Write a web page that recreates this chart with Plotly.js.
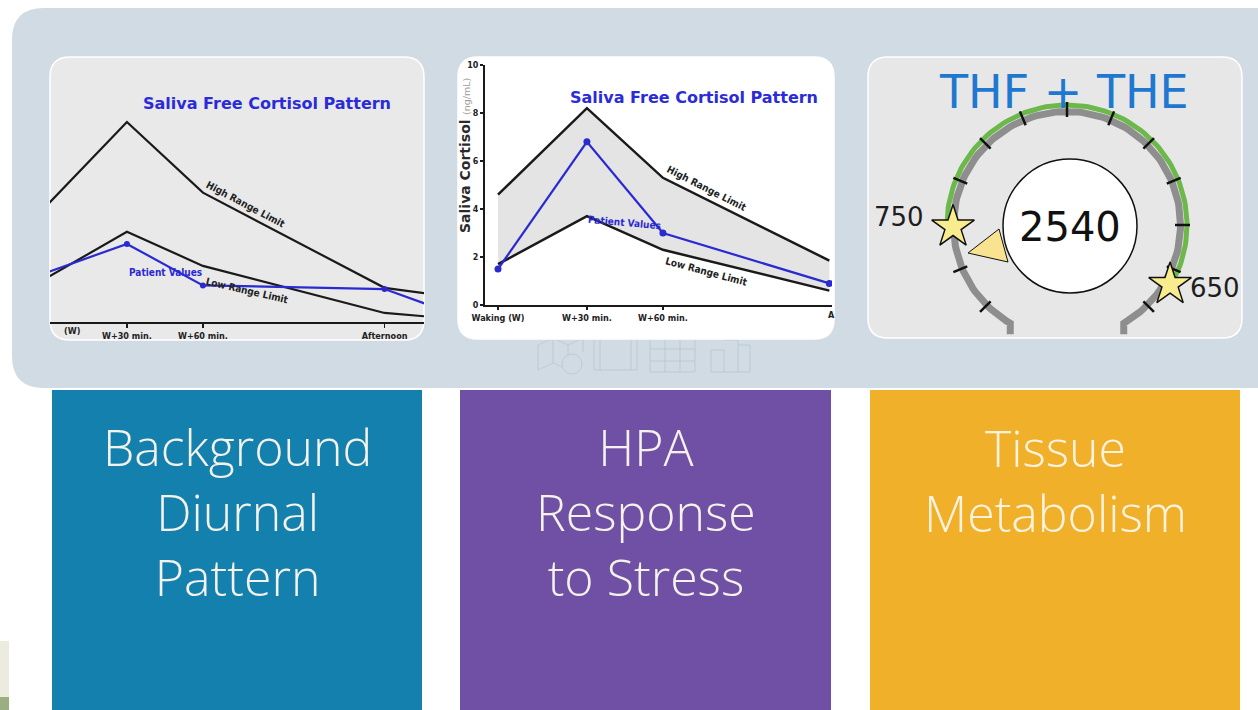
<!DOCTYPE html>
<html>
<head>
<meta charset="utf-8">
<script src="https://cdn.plot.ly/plotly-3.0.1.min.js"></script>
<style>
  html, body { margin: 0; padding: 0; background: #ffffff; overflow: hidden; }
  #chart { width: 1258px; height: 710px; }
</style>
</head>
<body>
<div id="chart"></div>
<script>
// ---- Data -------------------------------------------------------------
// Saliva collection points shared by both cortisol panels
const tickLabels = ['Waking (W)', 'W+30 min.', 'W+60 min.', 'Afternoon', 'Evening'];

// Panel A – background diurnal pattern (hours after waking, ng/mL)
const hoursA = [0, 0.585, 1.085, 2.28, 2.645];
const highA = [4.4, 8.2, 5.3, 1.4, 1.1];
const lowA = [1.6, 3.7, 2.3, 0.37, 0.18];
const patientA = [1.9, 3.2, 1.5, 1.35, 0.53];

// Panel B – HPA response to stress (hours after waking, ng/mL)
const hoursB = [0, 0.585, 1.085, 2.18];
const highB = [4.6, 8.2, 5.3, 1.85];
const lowB = [1.7, 3.7, 2.3, 0.6];
const patientB = [1.5, 6.8, 3.0, 0.9];
const yTicksB = [0, 2, 4, 6, 8, 10];

// Panel C – tissue metabolism gauge
const gaugeTotal = 2540;
const gaugeRefLabels = ['750', '650'];

// Category boxes
const boxTitles = [['Background', 'Diurnal', 'Pattern'], ['HPA', 'Response', 'to Stress'], ['Tissue', 'Metabolism']];
const boxColors = ['#1380ad', '#7050a4', '#f0b02a'];

// ---- Helpers ----------------------------------------------------------
const W = 1258, H = 710;
const fx = p => p / W;
const fy = p => 1 - p / H;

function roundRectPath(x0, y0, x1, y1, r) {
  const P = (x, y) => fx(x).toFixed(5) + ',' + fy(y).toFixed(5);
  return 'M' + P(x0 + r, y0) + ' L' + P(x1 - r, y0) + ' Q' + P(x1, y0) + ' ' + P(x1, y0 + r) +
    ' L' + P(x1, y1 - r) + ' Q' + P(x1, y1) + ' ' + P(x1 - r, y1) +
    ' L' + P(x0 + r, y1) + ' Q' + P(x0, y1) + ' ' + P(x0, y1 - r) +
    ' L' + P(x0, y0 + r) + ' Q' + P(x0, y0) + ' ' + P(x0 + r, y0) + ' Z';
}
function paperRect(x0, y0, x1, y1, fill) {
  return { type: 'rect', xref: 'paper', yref: 'paper', x0: fx(x0), x1: fx(x1), y0: fy(y1), y1: fy(y0),
    fillcolor: fill, line: { width: 0 }, layer: 'below' };
}
function paperPath(d, color) {
  return { type: 'path', xref: 'paper', yref: 'paper', path: d, line: { color: color, width: 1 }, layer: 'below' };
}
function pxPath(pts) {
  return pts.map((p, i) => (i ? 'L' : 'M') + fx(p[0]).toFixed(5) + ',' + fy(p[1]).toFixed(5)).join(' ');
}

// gauge geometry: angle measured clockwise from the top
const pt = (r, deg) => [r * Math.sin(deg * Math.PI / 180), r * Math.cos(deg * Math.PI / 180)];
function arcXY(r, a0, a1) {
  const xs = [], ys = [];
  const n = Math.max(2, Math.ceil(Math.abs(a1 - a0) / 2));
  for (let i = 0; i <= n; i++) {
    const p = pt(r, a0 + (a1 - a0) * i / n);
    xs.push(p[0]); ys.push(p[1]);
  }
  return { x: xs, y: ys };
}

// ---- Traces -----------------------------------------------------------
const BLUE = '#2a2ad2';
const INK = '#1a1a1a';
const traces = [];

// Panel A
traces.push({ x: hoursA, y: lowA, xaxis: 'x', yaxis: 'y', mode: 'lines', line: { color: INK, width: 2.2 }, hoverinfo: 'skip' });
traces.push({ x: hoursA, y: highA, xaxis: 'x', yaxis: 'y', mode: 'lines', line: { color: INK, width: 2.2 }, hoverinfo: 'skip' });
traces.push({ x: hoursA, y: patientA, xaxis: 'x', yaxis: 'y', mode: 'lines+markers', line: { color: BLUE, width: 2.2 },
  marker: { color: BLUE, size: 6 }, hoverinfo: 'skip' });

// Panel B
traces.push({ x: hoursB, y: lowB, xaxis: 'x2', yaxis: 'y2', mode: 'lines', line: { color: INK, width: 2.5 }, hoverinfo: 'skip' });
traces.push({ x: hoursB, y: highB, xaxis: 'x2', yaxis: 'y2', mode: 'lines', line: { color: INK, width: 2.5 },
  fill: 'tonexty', fillcolor: '#e4e4e4', hoverinfo: 'skip' });
traces.push({ x: hoursB, y: patientB, xaxis: 'x2', yaxis: 'y2', mode: 'lines+markers', line: { color: BLUE, width: 2.2 },
  marker: { color: BLUE, size: 7 }, hoverinfo: 'skip' });

// Panel C – gauge ring
const gray = arcXY(113.5, -150, 150);
gray.x.unshift(gray.x[0]); gray.y.unshift(gray.y[0] - 11);
gray.x.push(gray.x[gray.x.length - 1]); gray.y.push(gray.y[gray.y.length - 1] - 11);
traces.push({ x: gray.x, y: gray.y, xaxis: 'x3', yaxis: 'y3', mode: 'lines', line: { color: '#8e8e8e', width: 7 }, hoverinfo: 'skip' });
const green = arcXY(120, -90, 120);
traces.push({ x: green.x, y: green.y, xaxis: 'x3', yaxis: 'y3', mode: 'lines', line: { color: '#6cb84a', width: 5 }, hoverinfo: 'skip' });
const tx = [], ty = [];
for (let a = -135; a <= 135; a += 22.5) {
  const p0 = pt(108, a), p1 = pt(123, a);
  tx.push(p0[0], p1[0], null); ty.push(p0[1], p1[1], null);
}
traces.push({ x: tx, y: ty, xaxis: 'x3', yaxis: 'y3', mode: 'lines', line: { color: '#111', width: 2.5 }, hoverinfo: 'skip' });
// pointer
traces.push({ x: [-99, -68, -59, -99], y: [-28, -4, -37, -28], xaxis: 'x3', yaxis: 'y3', mode: 'lines', fill: 'toself',
  fillcolor: '#f9e390', line: { color: '#111', width: 1 }, hoverinfo: 'skip' });
// reference-limit stars
const s1 = pt(114, -91), s2 = pt(119, 120);
traces.push({ x: [s1[0], s2[0]], y: [s1[1], s2[1]], xaxis: 'x3', yaxis: 'y3', mode: 'markers',
  marker: { symbol: 'star', size: 32, color: '#f8ec8f', line: { color: '#111', width: 1.5 } }, hoverinfo: 'skip' });

// ---- Shapes -----------------------------------------------------------
const iconInk = 'rgba(140,160,180,0.28)';
const shapes = [
  { type: 'path', xref: 'paper', yref: 'paper', path: roundRectPath(12, 8, 1290, 388, 32), fillcolor: '#d1dbe3', line: { width: 0 }, layer: 'below' },
  // faint icon row under the middle card
  paperPath(pxPath([[538, 345], [553, 338], [568, 345], [583, 338], [583, 352]]), iconInk),
  paperPath(pxPath([[538, 345], [538, 370], [553, 363], [562, 367]]), iconInk),
  paperPath(pxPath([[553, 338], [553, 363]]), iconInk),
  paperPath(pxPath([[568, 345], [568, 355]]), iconInk),
  { type: 'circle', xref: 'paper', yref: 'paper', x0: fx(562), x1: fx(582), y0: fy(374), y1: fy(354), line: { color: iconInk, width: 1 }, layer: 'below' },
  paperPath(pxPath([[594, 338], [637, 338], [637, 370], [594, 370], [594, 338]]), iconInk),
  paperPath(pxPath([[600, 338], [600, 370]]), iconInk),
  paperPath(pxPath([[631, 338], [631, 370]]), iconInk),
  paperPath(pxPath([[650, 338], [695, 338], [695, 372], [650, 372], [650, 338]]), iconInk),
  paperPath(pxPath([[665, 338], [665, 372]]), iconInk),
  paperPath(pxPath([[680, 338], [680, 372]]), iconInk),
  paperPath(pxPath([[650, 349], [695, 349]]), iconInk),
  paperPath(pxPath([[650, 361], [695, 361]]), iconInk),
  paperPath(pxPath([[711, 372], [711, 350], [724, 350], [724, 372]]), iconInk),
  paperPath(pxPath([[724, 340], [738, 340], [738, 372]]), iconInk),
  paperPath(pxPath([[738, 345], [750, 345], [750, 372], [711, 372]]), iconInk),
  // cards
  { type: 'path', xref: 'paper', yref: 'paper', path: roundRectPath(50, 57, 424, 340, 20), fillcolor: '#e9e9e9', line: { color: '#ffffff', width: 1.5 }, layer: 'below' },
  { type: 'path', xref: 'paper', yref: 'paper', path: roundRectPath(458, 57, 834, 339, 20), fillcolor: '#ffffff', line: { color: '#ffffff', width: 1.5 }, layer: 'below' },
  { type: 'path', xref: 'paper', yref: 'paper', path: roundRectPath(868, 57, 1242, 338, 20), fillcolor: '#e7e7e7', line: { color: '#ffffff', width: 1.5 }, layer: 'below' },
  // category boxes
  paperRect(52, 390, 422, 710, boxColors[0]),
  paperRect(460, 390, 831, 710, boxColors[1]),
  paperRect(870, 390, 1240, 710, boxColors[2]),
  // corner strip
  paperRect(0, 641, 9, 697, '#ecebdf'),
  paperRect(0, 697, 9, 710, '#9bae82'),
  // gauge centre disc
  { type: 'circle', xref: 'x3', yref: 'y3', x0: 3 - 67, x1: 3 + 67, y0: -1 - 67, y1: -1 + 67,
    fillcolor: '#ffffff', line: { color: '#111', width: 1.5 }, layer: 'above' }
];

// ---- Annotations ------------------------------------------------------
const condBold = { family: 'DejaVu Sans Condensed', size: 10, color: '#222', weight: 'bold' };
function note(x, y, text, font, angle, extra) {
  return Object.assign({ xref: 'paper', yref: 'paper', x: fx(x), y: fy(y), text: text, showarrow: false,
    font: font, textangle: angle || 0, xanchor: 'center', yanchor: 'middle' }, extra || {});
}
const titleFont = { family: 'DejaVu Sans', size: 16, color: '#2b2bd8', weight: 'bold' };
const patientFont = Object.assign({}, condBold, { color: BLUE });
const annotations = [
  // Panel A labels
  note(267, 103, 'Saliva Free Cortisol Pattern', titleFont),
  note(246, 204, 'High Range Limit', condBold, 28),
  note(247, 290, 'Low Range Limit', condBold, 13),
  note(165, 273, 'Patient Values', patientFont),
  note(72, 331, '(W)', Object.assign({}, condBold, { size: 9 })),
  // Panel B labels
  note(694, 97, 'Saliva Free Cortisol Pattern', titleFont),
  note(707, 188, 'High Range Limit', condBold, 27),
  note(706, 272, 'Low Range Limit', condBold, 15),
  note(624, 222, 'Patient Values', patientFont, 5),
  note(831, 315, 'A', Object.assign({}, condBold, { size: 9 })),
  note(465, 156, '<b>Saliva Cortisol</b> <span style="font-size:9.5px;color:#9a9a9a">(ng/mL)</span>',
    { family: 'DejaVu Sans', size: 14, color: '#2a2a2a' }, -90),
  // Panel C labels
  note(1064, 92, 'THF + THE', { family: 'DejaVu Sans', size: 46, color: '#1f78cf' }),
  note(899, 217, gaugeRefLabels[0], { family: 'DejaVu Sans', size: 26, color: '#1e1e1e' }),
  note(1215, 288, gaugeRefLabels[1], { family: 'DejaVu Sans', size: 26, color: '#1e1e1e' }),
  { xref: 'x3', yref: 'y3', x: 3, y: -2, text: String(gaugeTotal), showarrow: false,
    font: { family: 'DejaVu Sans', size: 40, color: '#111' }, xanchor: 'center', yanchor: 'middle' }
];
// Category box titles (50px type gives the 65px row pitch)
const boxCentres = [237, 645.5, 1055];
boxTitles.forEach((lines, b) => {
  annotations.push(note(boxCentres[b], lines.length === 3 ? 512 : 480, lines.join('<br>'),
    { family: 'Open Sans', size: 50, color: b === 2 ? '#fbf3df' : '#f4f2ea', weight: 300 }));
});

// ---- Layout -----------------------------------------------------------
const tickFont = { family: 'DejaVu Sans Condensed', size: 9, color: '#222', weight: 'bold' };
const pxPerHour = 152;
const layout = {
  width: W, height: H,
  margin: { l: 0, r: 0, t: 0, b: 0, pad: 0 },
  paper_bgcolor: '#ffffff',
  plot_bgcolor: 'rgba(0,0,0,0)',
  showlegend: false,
  xaxis: {
    domain: [fx(50), fx(424)], range: [(50 - 38) / pxPerHour, (424 - 38) / pxPerHour], anchor: 'y',
    showline: true, linecolor: INK, linewidth: 2, ticks: 'outside', ticklen: 4, tickwidth: 1.5, tickcolor: INK,
    tickvals: hoursA, ticktext: tickLabels, tickfont: tickFont, showgrid: false, zeroline: false, fixedrange: true
  },
  yaxis: { domain: [fy(322), fy(57)], range: [0, 265 / 24.4], anchor: 'x', visible: false, fixedrange: true },
  xaxis2: {
    domain: [fx(485), fx(832)], range: [-13 / pxPerHour, 334 / pxPerHour], anchor: 'y2',
    showline: true, linecolor: INK, linewidth: 2, ticks: 'outside', ticklen: 3, tickwidth: 1.5, tickcolor: INK,
    tickvals: hoursB.slice(0, 3), ticktext: tickLabels.slice(0, 3), tickfont: tickFont,
    showgrid: false, zeroline: false, fixedrange: true
  },
  yaxis2: {
    domain: [fy(305), fy(65)], range: [0, 10], anchor: 'x2',
    showline: true, linecolor: INK, linewidth: 2, ticks: 'outside', ticklen: 3, tickwidth: 1.5, tickcolor: INK,
    tickvals: yTicksB, tickfont: { family: 'DejaVu Sans', size: 8, color: '#222', weight: 'bold' },
    showgrid: false, zeroline: false, fixedrange: true
  },
  xaxis3: { domain: [fx(868), fx(1242)], range: [-199, 175], anchor: 'y3', visible: false, fixedrange: true },
  yaxis3: { domain: [fy(338), fy(57)], range: [-113, 168], anchor: 'x3', visible: false, fixedrange: true },
  shapes: shapes,
  annotations: annotations
};

Plotly.newPlot('chart', traces, layout, { displayModeBar: false, staticPlot: true });
</script>
</body>
</html>
